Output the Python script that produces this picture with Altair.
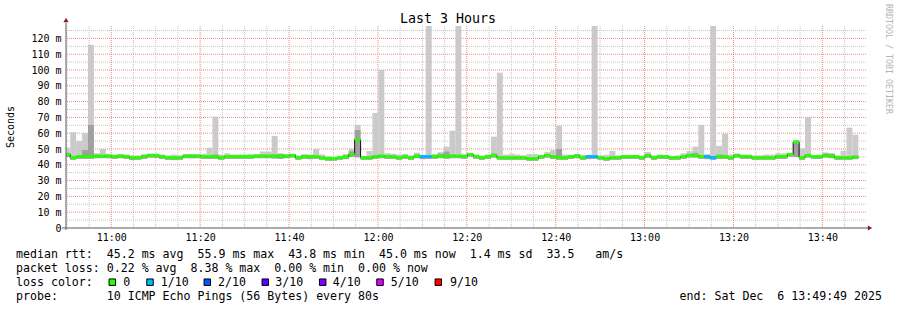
import altair as alt
import pandas as pd

FONT = "DejaVu Sans Mono"
NB = "\u00a0"

# ---------------- data ----------------
title_text = "Last 3 Hours"
y_title = "Seconds"
watermark = "RRDTOOL / TOBI OETIKER"
legend_lines = [
    "median rtt:  45.2 ms avg  55.9 ms max  43.8 ms min  45.0 ms now  1.4 ms sd  33.5   am/s",
    "packet loss: 0.22 % avg  8.38 % max  0.00 % min  0.00 % now",
    "loss color:",
    "probe:       10 ICMP Echo Pings (56 Bytes) every 80s",
]
end_text = "end: Sat Dec  6 13:49:49 2025"

loss_names = ["0", "1/10", "2/10", "3/10", "4/10", "5/10", "9/10"]
loss_colors = ["#26ff00", "#00b8ff", "#0059ff", "#5e00ff", "#7e00ff", "#dd00ff", "#ff0000"]

# x in minutes after 10:00
x_tick_minutes = [60, 80, 100, 120, 140, 160, 180, 200, 220]
x_tick_labels = ["11:00", "11:20", "11:40", "12:00", "12:20", "12:40", "13:00", "13:20", "13:40"]
y_tick_values = [0, 10, 20, 30, 40, 50, 60, 70, 80, 90, 100, 110, 120]
y_tick_labels = ["0", "10 m", "20 m", "30 m", "40 m", "50 m", "60 m", "70 m", "80 m", "90 m", "100 m", "110 m", "120 m"]

VIEW_START = 49 + 49 / 60          # 10:49:49
VIEW_END = VIEW_START + 180        # 13:49:49
STEP0 = 49 + 26 / 60               # first 80 s RRD step starts 10:49:26
STEP = 80 / 60
Y_TOP = 127.85

# median rtt (ms) per 80 s step
median = [
    46.6, 44.5, 45.2, 45.2, 45.2, 45.6, 45.6, 45.6, 45.2, 45.6,
    45.2, 44.5, 44.5, 45.2, 46.0, 46.0, 45.2, 44.5, 44.5, 44.5,
    45.6, 45.6, 45.6, 45.2, 45.2, 45.2, 44.5, 45.2, 45.2, 45.2,
    45.2, 45.2, 45.6, 45.6, 45.6, 45.6, 45.2, 45.6, 46.0, 44.5,
    45.2, 45.2, 45.2, 44.5, 43.9, 43.9, 44.5, 45.0, 46.6, 55.9,
    44.5, 44.5, 45.2, 45.6, 45.2, 45.2, 44.5, 45.2, 44.5, 45.6,
    45.2, 45.2, 45.2, 45.6, 45.2, 45.6, 45.6, 45.2, 46.6, 45.2,
    44.5, 45.2, 46.0, 44.5, 44.5, 44.5, 44.5, 44.5, 43.9, 43.9,
    45.2, 46.0, 45.2, 44.5, 44.5, 45.2, 45.6, 44.5, 45.2, 45.2,
    44.5, 43.9, 44.5, 44.5, 45.2, 45.2, 45.2, 44.5, 46.0, 44.5,
    45.2, 45.2, 44.5, 44.5, 45.2, 46.0, 46.0, 45.2, 45.2, 44.5,
    45.2, 45.2, 44.5, 46.0, 45.2, 45.2, 44.5, 44.5, 44.5, 44.5,
    45.2, 45.2, 46.6, 54.4, 44.5, 46.0, 45.2, 45.2, 46.0, 45.6,
    44.5, 44.5, 44.5, 45.0,
]
# lost pings out of 10 per step
loss = [
    0, 0, 0, 0, 0, 0, 0, 0, 0, 0,
    0, 0, 0, 0, 0, 0, 0, 0, 0, 0,
    0, 0, 0, 0, 0, 0, 0, 0, 0, 0,
    0, 0, 0, 0, 0, 0, 0, 0, 0, 0,
    0, 0, 0, 0, 0, 0, 0, 0, 0, 0,
    0, 0, 0, 0, 0, 0, 0, 0, 0, 0,
    1, 1, 0, 0, 0, 0, 0, 0, 0, 0,
    0, 0, 0, 0, 0, 0, 0, 0, 0, 0,
    0, 0, 0, 0, 0, 0, 0, 0, 1, 1,
    0, 0, 0, 0, 0, 0, 0, 0, 0, 0,
    0, 0, 0, 0, 0, 0, 0, 0, 1, 1,
    0, 0, 0, 0, 0, 0, 0, 0, 0, 0,
    0, 0, 0, 0, 0, 0, 0, 0, 0, 0,
    0, 0, 0, 0,
]
# smoke: fastest ping (ms)
smoke_min = [
    45.0, 43.2, 43.8, 43.8, 43.8, 44.2, 44.2, 44.2, 43.8, 44.2,
    43.8, 43.0, 43.2, 43.8, 44.6, 44.4, 43.8, 43.2, 43.0, 43.2,
    44.2, 44.2, 44.2, 43.8, 43.8, 43.8, 43.2, 43.8, 43.8, 43.8,
    43.8, 43.8, 44.2, 44.2, 44.2, 44.0, 43.8, 44.2, 44.6, 43.2,
    43.8, 43.6, 43.8, 43.2, 42.6, 42.6, 43.2, 43.6, 45.0, 44.8,
    43.2, 43.2, 43.8, 44.2, 43.8, 43.8, 43.2, 43.8, 43.2, 44.2,
    43.6, 43.8, 43.8, 44.2, 43.8, 44.2, 44.2, 43.8, 45.2, 43.8,
    43.2, 43.8, 44.6, 43.2, 43.2, 43.2, 43.2, 43.2, 42.6, 42.6,
    43.8, 44.6, 43.8, 43.2, 43.2, 43.8, 44.2, 43.2, 43.6, 43.8,
    43.2, 42.6, 43.2, 43.2, 43.8, 43.8, 43.8, 43.2, 44.6, 43.2,
    43.8, 43.8, 43.2, 43.2, 43.8, 44.6, 44.6, 43.8, 43.6, 43.2,
    43.8, 43.8, 43.2, 44.6, 43.8, 43.8, 43.2, 43.2, 43.2, 43.2,
    43.8, 43.8, 45.2, 45.0, 43.2, 44.6, 43.8, 43.8, 44.6, 44.2,
    43.2, 43.2, 43.2, 43.6,
]
# smoke: slowest ping (ms)
smoke_max = [
    50.9, 60.6, 55.0, 60.0, 116.0, 47.3, 50.0, 47.0, 46.5, 46.8,
    46.5, 46.0, 46.0, 46.8, 47.0, 47.0, 46.5, 46.0, 46.5, 46.0,
    46.8, 46.8, 46.8, 47.0, 50.8, 70.5, 46.5, 47.3, 46.5, 46.5,
    46.5, 46.8, 46.8, 48.4, 48.4, 58.3, 47.3, 46.8, 47.0, 46.0,
    46.8, 46.5, 50.0, 46.5, 45.5, 45.0, 45.5, 46.0, 50.2, 65.2,
    45.5, 48.7, 72.8, 100.0, 47.3, 47.0, 46.5, 46.8, 46.0, 47.7,
    46.3, 140.0, 46.8, 48.0, 51.5, 61.6, 140.0, 47.0, 47.3, 46.5,
    46.0, 46.5, 57.8, 98.3, 46.5, 47.0, 46.5, 46.0, 46.8, 46.8,
    46.0, 48.0, 49.4, 64.7, 46.5, 46.0, 46.8, 46.5, 46.3, 140.0,
    46.0, 46.3, 48.8, 46.0, 46.0, 45.5, 46.0, 46.0, 48.0, 46.0,
    46.5, 46.0, 45.5, 46.0, 47.3, 48.7, 51.5, 65.2, 46.8, 140.0,
    52.0, 59.6, 46.5, 47.0, 46.5, 46.5, 46.0, 46.0, 46.5, 46.5,
    47.3, 47.3, 47.5, 55.7, 50.4, 70.0, 46.0, 46.0, 47.8, 47.3,
    46.0, 48.8, 63.5, 59.0,
]
# smoke: upper edge of the inner (darker) ping band (ms)
dark_hi = [
    47.5, 45.1, 45.8, 49.4, 65.2, 46.2, 46.2, 46.2, 45.8, 46.2,
    45.8, 45.1, 45.1, 45.8, 46.6, 46.6, 45.8, 45.1, 45.1, 45.1,
    46.2, 46.2, 46.2, 45.8, 45.8, 46.5, 45.1, 45.8, 45.8, 45.8,
    45.8, 45.8, 46.2, 46.2, 46.2, 46.5, 46.8, 46.2, 46.6, 45.1,
    45.8, 45.8, 45.8, 45.1, 44.5, 44.5, 45.1, 46.5, 48.5, 62.0,
    45.1, 45.1, 45.8, 46.2, 45.8, 45.8, 45.1, 45.8, 45.1, 46.5,
    45.8, 46.0, 45.8, 47.0, 48.4, 46.5, 46.2, 45.8, 47.2, 45.8,
    45.1, 45.8, 47.0, 45.1, 45.1, 45.1, 45.1, 45.1, 44.5, 44.5,
    45.8, 46.6, 45.8, 50.0, 45.1, 45.8, 46.8, 45.1, 45.8, 45.8,
    45.1, 44.5, 45.1, 45.1, 45.8, 45.8, 45.8, 45.1, 46.5, 45.1,
    45.8, 45.8, 45.1, 45.1, 45.8, 46.6, 47.5, 46.0, 45.8, 45.1,
    46.5, 45.8, 45.1, 46.6, 45.8, 45.8, 45.1, 45.1, 45.1, 45.1,
    45.8, 45.8, 47.2, 55.0, 45.1, 46.6, 45.8, 45.8, 47.0, 47.0,
    45.1, 45.1, 45.1, 45.6,
]

n = len(median)
assert all(len(a) == n for a in (loss, smoke_min, smoke_max, dark_hi))

t0 = [STEP0 + i * STEP for i in range(n)]
t1 = [t + STEP for t in t0]
df = pd.DataFrame(dict(t0=t0, t1=t1, med=median, lo=smoke_min, hi=smoke_max,
                       dhi=dark_hi, loss=[loss_names[v] for v in loss]))
line_df = pd.DataFrame(dict(t0=t0 + [t1[-1]], med=median + [median[-1]]))

minor_v = [m for m in range(50, 230, 5) if m % 20 != 0]
major_v = list(range(60, 221, 20))
minor_h = list(range(5, 126, 10))
major_h = list(range(10, 121, 10))

# ---------------- scales / axes ----------------
xlab = "[" + ",".join("'%s'" % s for s in x_tick_labels) + "]"
ylab = "[" + ",".join("'%s'" % s for s in y_tick_labels) + "]"
x_axis = alt.Axis(values=x_tick_minutes, labelExpr=f"{xlab}[round((datum.value-60)/20)]",
                  grid=False, ticks=False, domain=False, labelFont=FONT, labelFontSize=10,
                  labelColor="#000", labelPadding=4, title=None)
y_axis = alt.Axis(values=y_tick_values, labelExpr=f"{ylab}[round(datum.value/10)]",
                  grid=False, ticks=False, domain=False, labelFont=FONT, labelFontSize=10,
                  labelColor="#000", labelPadding=5, title=None)
xs = alt.Scale(domain=[VIEW_START, VIEW_END], nice=False, zero=False)
ys = alt.Scale(domain=[0, Y_TOP], nice=False, zero=True)


def X(f):
    return alt.X(f"{f}:Q", scale=xs, axis=x_axis)


def Yc(f):
    return alt.Y(f"{f}:Q", scale=ys, axis=y_axis)


one = pd.DataFrame({"a": [0]})

grid_minor_v = alt.Chart(pd.DataFrame({"v": minor_v})).mark_rule(
    color="#c4c4c4", strokeDash=[1, 1], strokeWidth=1).encode(x=X("v"))
grid_major_v = alt.Chart(pd.DataFrame({"v": major_v})).mark_rule(
    color="#e88a8a", strokeDash=[1, 1], strokeWidth=1).encode(x=X("v"))
grid_minor_h = alt.Chart(pd.DataFrame({"v": minor_h})).mark_rule(
    color="#c4c4c4", strokeDash=[1, 1], strokeWidth=1).encode(y=Yc("v"))
grid_major_h = alt.Chart(pd.DataFrame({"v": major_h})).mark_rule(
    color="#e88a8a", strokeDash=[1, 1], strokeWidth=1).encode(y=Yc("v"))

smoke = alt.Chart(df).mark_rect(color="#cacaca", clip=True).encode(
    x=X("t0"), x2="t1", y=Yc("lo"), y2="hi")
smoke_dark = alt.Chart(df).mark_rect(color="#a0a0a0", clip=True).encode(
    x=X("t0"), x2="t1", y=Yc("lo"), y2="dhi")
med_line = alt.Chart(line_df).mark_line(interpolate="step-after", color="#111",
                                        strokeWidth=1, clip=True).encode(
    x=X("t0"), y=Yc("med"))
med_seg = alt.Chart(df).mark_rule(strokeWidth=3, clip=True).encode(
    x=X("t0"), x2="t1", y=Yc("med"),
    color=alt.Color("loss:N", scale=alt.Scale(domain=loss_names, range=loss_colors), legend=None))

AX = "#5a5a5a"
ARROW = "#8b1a1a"
y_axis_line = alt.Chart(one).mark_rule(color=AX, strokeWidth=1).encode(
    x=alt.value(0), y=alt.value(-3), y2=alt.value(204))
x_axis_line = alt.Chart(one).mark_rule(color=AX, strokeWidth=1).encode(
    x=alt.value(-4), x2=alt.value(802), y=alt.value(202))
arrow_up = alt.Chart(one).mark_point(shape="triangle-up", filled=True, size=26, color=ARROW,
                                     opacity=1, x=0, y=-6).encode(opacity=alt.value(1))
arrow_right = alt.Chart(one).mark_point(shape="triangle-right", filled=True, size=26, color=ARROW,
                                        opacity=1, x=804, y=202).encode(opacity=alt.value(1))

texts = []
texts.append(alt.Chart(one).mark_text(font=FONT, fontSize=13.3, color="#000", align="center",
                                      baseline="middle", x=382, y=-7).encode(text=alt.value(title_text)))
texts.append(alt.Chart(one).mark_text(font=FONT, fontSize=10, color="#000", align="center",
                                      baseline="middle", angle=270, x=-55, y=101).encode(text=alt.value(y_title)))
texts.append(alt.Chart(one).mark_text(font=FONT, fontSize=8.3, color="#b4b4b4", align="left",
                                      baseline="middle", angle=90, x=822, y=-22).encode(text=alt.value(watermark)))
line_y = [228.7, 242.7, 256.7, 270.7]
for s, yy in zip(legend_lines, line_y):
    texts.append(alt.Chart(one).mark_text(font=FONT, fontSize=11.6, color="#000", align="left",
                                          baseline="middle", x=-50, y=yy).encode(text=alt.value(s.replace(" ", NB))))
texts.append(alt.Chart(one).mark_text(font=FONT, fontSize=11.6, color="#000", align="right",
                                      baseline="middle", x=816, y=270.7).encode(text=alt.value(end_text.replace(" ", NB))))

# loss colour legend (layout positions)
sq_x = [46.3, 84.0, 141.3, 199.3, 256.7, 314.0, 372.3]
lab_x = [57.3, 94.7, 152.0, 209.3, 266.7, 324.7, 384.0]
for name, col, sx, lx in zip(loss_names, loss_colors, sq_x, lab_x):
    texts.append(alt.Chart(one).mark_point(shape="square", filled=True, size=42, fill=col,
                                           stroke="#000", strokeWidth=1, opacity=1,
                                           x=sx, y=256.2).encode(opacity=alt.value(1)))
    texts.append(alt.Chart(one).mark_text(font=FONT, fontSize=11.6, color="#000", align="left",
                                          baseline="middle", x=lx, y=256.7).encode(text=alt.value(name)))

chart = alt.layer(
    grid_minor_v, grid_minor_h, grid_major_v, grid_major_h,
    smoke, smoke_dark, med_line, med_seg,
    y_axis_line, x_axis_line, arrow_up, arrow_right, *texts
).properties(
    width=800, height=202,
    autosize=alt.AutoSizeParams(type="none"),
    padding={"left": 66, "top": 26, "right": 31, "bottom": 82},
    background="#ffffff",
).configure_view(stroke=None)

chart.save("out.html", embed_options={"renderer": "svg", "actions": False})
